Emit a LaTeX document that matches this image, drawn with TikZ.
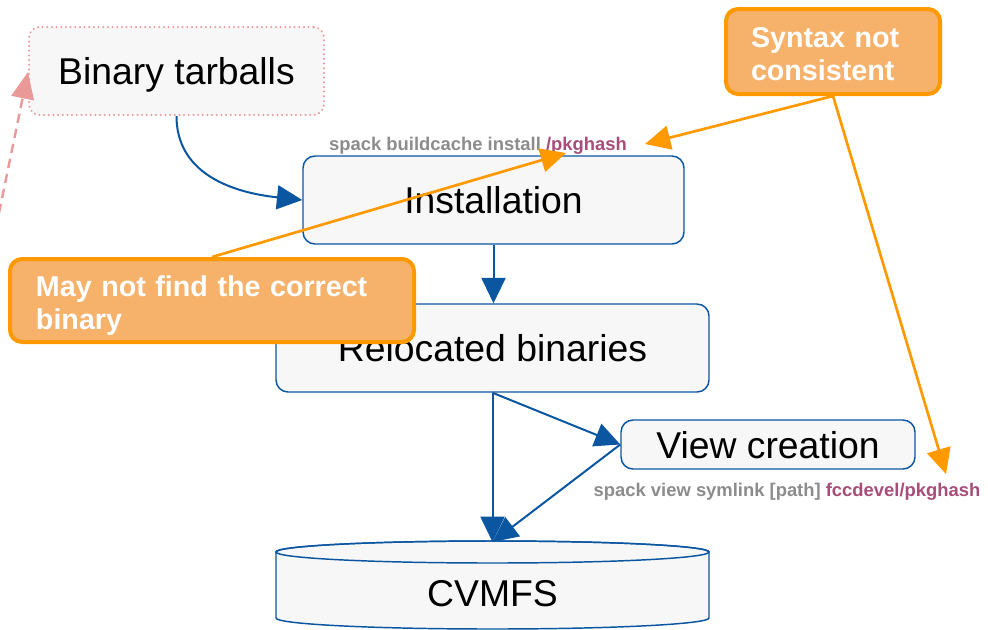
\documentclass[tikz,border=0pt]{standalone}
\usepackage{fontspec}
\setmainfont{Liberation Sans}
\usetikzlibrary{arrows.meta}

\definecolor{flowblue}{HTML}{0A56A0}
\definecolor{boxfill}{HTML}{F7F7F7}
\definecolor{hintpink}{HTML}{EA9999}
\definecolor{noteorange}{HTML}{FF9900}
\definecolor{notefill}{HTML}{F6B26B}
\definecolor{cmdgray}{HTML}{8C8C8C}
\definecolor{cmdpurple}{HTML}{A64D79}

\tikzset{
  stepbox/.style={draw=flowblue, line width=1.1pt, fill=boxfill, rounded corners=9pt,
    inner sep=0pt, text depth=0pt, font=\fontsize{28}{34}\selectfont},
  srcbox/.style={draw=hintpink, line width=1.6pt, dash pattern=on 0.1pt off 3.4pt,
    line cap=round, fill=boxfill, rounded corners=8pt, inner sep=0pt, text depth=0pt,
    font=\fontsize{28}{34}\selectfont},
  callout/.style={draw=noteorange, line width=3pt, fill=notefill, rounded corners=9pt,
    text=white, align=left, inner ysep=0pt, text depth=21pt,
    font=\bfseries\fontsize{21.5}{24.75}\selectfont},
  cmd/.style={font=\bfseries\fontsize{13.8}{16}\selectfont, text=cmdgray,
    inner sep=0pt, anchor=base},
  flow/.style={draw=flowblue, line width=1.5pt, -{Triangle[length=19pt,width=18pt]}},
  hint/.style={draw=hintpink, line width=1.8pt, dash pattern=on 7pt off 4.5pt,
    -{Triangle[length=20pt,width=17pt]}},
  note/.style={draw=noteorange, line width=2pt, -{Triangle[length=19pt,width=18pt]}},
}

\begin{document}
\begin{tikzpicture}[x=0.75pt, y=-0.75pt]
\useasboundingbox (0,0) rectangle (988,629);
\clip (0,0) rectangle (988,629);

% process boxes
\node[srcbox, minimum width=221.25pt, minimum height=66pt] (tarballs) at (176.5,71) {Binary tarballs};
\node[stepbox, minimum width=285.75pt, minimum height=66pt] (install) at (493.5,200) {Installation};
\node[stepbox, minimum width=324.75pt, minimum height=66pt] (reloc) at (492.5,348) {Relocated binaries};
\node[stepbox, minimum width=220.5pt, minimum height=36.75pt] (view) at (768,444.5) {View creation};

% CVMFS storage drum
\path[draw=flowblue, line width=1.1pt, fill=boxfill]
  (276,552) -- (276,618)
  arc[start angle=180, end angle=360, x radius=162.375pt, y radius=8.25pt]
  -- (709,552)
  arc[start angle=0, end angle=180, x radius=162.375pt, y radius=8.25pt] -- cycle;
\draw[flowblue, line width=1.1pt] (492.5,552) ellipse [x radius=162.375pt, y radius=8.25pt];
\node[font=\fontsize{28}{34}\selectfont, inner sep=0pt] (cvmfs) at (492.5,594) {CVMFS};
\coordinate (cvmfstop) at (492.5,542);

% command labels
\node[cmd] (cmdinstall) at (478,150) {spack buildcache install \textcolor{cmdpurple}{/pkghash}};
\node[cmd] (cmdview) at (787,496) {spack view symlink [path] \textcolor{cmdpurple}{fccdevel/pkghash}};

% main flow
\draw[flow] (tarballs.south) .. controls +(0,55) and +(-75,-8) .. (install.west);
\draw[flow] (install.south) -- (install.south |- reloc.north);
\draw[flow] (reloc.south) -- (cvmfstop);
\draw[flow] (reloc.south) -- (view.west);
\draw[flow] (view.west) -- (cvmfstop);

% incoming dashed link
\coordinate (upstream) at (-1,213);
\coordinate (tarballsin) at (28,72);
\draw[hint] (upstream) -- (tarballsin);

% remarks
\node[callout, text width=123pt, inner xsep=18.75pt, minimum height=63.75pt] (syntax) at (833,51.5)
  {Syntax not\\consistent};
\node[callout, text width=264pt, inner xsep=19.5pt, minimum height=62.25pt] (mayfind) at (212,300.5)
  {May not find the correct\\binary};

\coordinate (hashA) at (645,144);
\coordinate (hashB) at (946,474);
\coordinate (hashC) at (566,153);
\draw[note] (syntax.south) -- (hashA);
\draw[note] (syntax.south) -- (hashB);
\draw[note] (mayfind.north) -- (hashC);
\end{tikzpicture}
\end{document}
